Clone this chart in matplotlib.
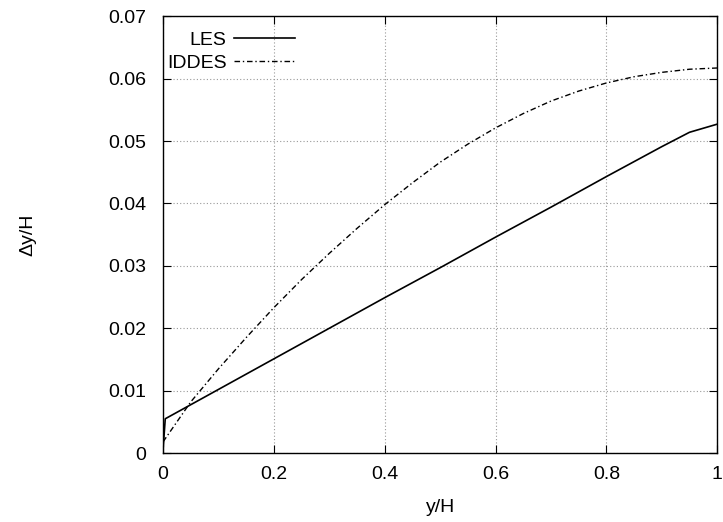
import matplotlib
matplotlib.use("Agg")
import matplotlib.pyplot as plt

plt.rcParams['font.family'] = ['Liberation Sans', 'DejaVu Sans']

# values
les_x = [0.0, 0.004, 0.1, 0.2, 0.3, 0.4, 0.5, 0.6, 0.7, 0.8, 0.9, 0.95, 1.0]
les_y = [0.0005, 0.0055, 0.0102, 0.0151, 0.0200, 0.0249, 0.0297, 0.0346, 0.0394, 0.0443, 0.0491, 0.0514, 0.0527]

iddes_x = [0.0, 0.025, 0.05, 0.1, 0.15, 0.2, 0.25, 0.3, 0.35, 0.4, 0.45, 0.5,
           0.55, 0.6, 0.65, 0.7, 0.75, 0.8, 0.85, 0.9, 0.95, 1.0]
iddes_y = [0.0018, 0.0050, 0.0082, 0.0135, 0.0185, 0.0233, 0.0278, 0.0320, 0.0360, 0.0398, 0.0433, 0.0466,
           0.0495, 0.0521, 0.0544, 0.0564, 0.0580, 0.0593, 0.0603, 0.0610, 0.0615, 0.0617]

x_ticks = [0, 0.2, 0.4, 0.6, 0.8, 1]
x_labels = ['0', '0.2', '0.4', '0.6', '0.8', '1']
y_ticks = [0, 0.01, 0.02, 0.03, 0.04, 0.05, 0.06, 0.07]
y_labels = ['0', '0.01', '0.02', '0.03', '0.04', '0.05', '0.06', '0.07']

fig = plt.figure(figsize=(7.23, 5.22), dpi=100)
ax = fig.add_axes([0.2255, 0.132, 0.7665, 0.837])

ax.plot(les_x, les_y, color='black', linewidth=1.2, label='LES')
ax.plot(iddes_x, iddes_y, color='black', linewidth=1.0,
        dashes=(4, 2, 1, 2), label='IDDES')

ax.set_xlim(0, 1)
ax.set_ylim(0, 0.07)
ax.set_xticks(x_ticks)
ax.set_xticklabels(x_labels)
ax.set_yticks(y_ticks)
ax.set_yticklabels(y_labels)
ax.tick_params(direction='in', top=True, right=True, labelsize=14, length=6)
ax.tick_params(axis='y', pad=12)
ax.tick_params(axis='x', pad=9)
ax.grid(True, color='#999999', linestyle=(0, (1, 2)), linewidth=0.8)

for s in ax.spines.values():
    s.set_linewidth(1.0)

ax.set_xlabel('y/H', fontsize=14, labelpad=12)
ax.set_ylabel('\u0394y/H', fontsize=14, labelpad=52)

leg = ax.legend(loc='upper left', frameon=False, markerfirst=False,
                fontsize=14, handlelength=3.1, handletextpad=0.4,
                borderaxespad=0.0, borderpad=0.2,
                labelspacing=0.3, bbox_to_anchor=(0.0, 0.975))
for t in leg.get_texts():
    t.set_ha('right')

fig.savefig('out.png', dpi=100)
